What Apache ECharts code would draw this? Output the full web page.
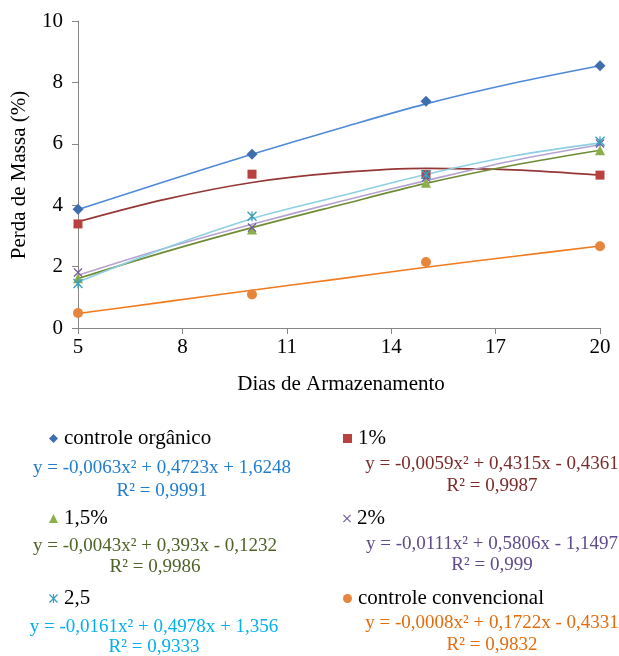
<!DOCTYPE html>
<html>
<head>
<meta charset="utf-8">
<script src="https://cdn.jsdelivr.net/npm/echarts@6/dist/echarts.min.js"></script>
<style>
html,body{margin:0;padding:0;background:#fff;}
#chart{width:619px;height:656px;}
</style>
</head>
<body>
<div id="chart"></div>
<script>
// ---- data ----
const days = [5, 10, 15, 20];
const trendDays = [5, 7.5, 10, 12.5, 15, 17.5, 20];
const xTicks = [5, 8, 11, 14, 17, 20];
const yTicks = [0, 2, 4, 6, 8, 10];

const seriesNames = ['controle orgânico', '1%', '1,5%', '2%', '2,5', 'controle convencional'];

const organico = [3.87, 5.66, 7.39, 8.54];
const pct1 = [3.39, 5.01, 5.0, 4.98];
const pct15 = [1.62, 3.21, 4.73, 5.79];
const pct2 = [1.81, 3.27, 4.9, 6.01];
const pct25 = [1.45, 3.64, 5.0, 6.08];
const convencional = [0.49, 1.09, 2.15, 2.66];

const organicoTrend = [3.86, 4.77, 5.66, 6.5, 7.3, 7.97, 8.54];
const pct1Trend = [3.46, 4.19, 4.74, 5.06, 5.2, 5.15, 4.98];
const pct15Trend = [1.61, 2.48, 3.27, 4.0, 4.71, 5.3, 5.79];
const pct2Trend = [1.72, 2.6, 3.38, 4.11, 4.8, 5.45, 5.97];
const pct25Trend = [1.5, 2.6, 3.56, 4.29, 5.0, 5.6, 6.03];
const convencionalTrend = [0.47, 0.85, 1.23, 1.6, 1.98, 2.33, 2.67];

const equations = [
  'y = -0,0063x² + 0,4723x + 1,6248',
  'y = -0,0059x² + 0,4315x - 0,4361',
  'y = -0,0043x² + 0,393x - 0,1232',
  'y = -0,0111x² + 0,5806x - 1,1497',
  'y = -0,0161x² + 0,4978x + 1,356',
  'y = -0,0008x² + 0,1722x - 0,4331'
];
const r2Labels = ['R² = 0,9991', 'R² = 0,9987', 'R² = 0,9986', 'R² = 0,999', 'R² = 0,9333', 'R² = 0,9832'];

const xTitle = 'Dias de Armazenamento';
const yTitle = 'Perda de Massa (%)';

// ---- styling ----
const FONT = '"Liberation Serif", "Times New Roman", serif';
const X_PATH = 'path://M1,0 L5,4 L9,0 L10,1 L6,5 L10,9 L9,10 L5,6 L1,10 L0,9 L4,5 L0,1 Z';
const STAR_PATH = 'path://M1,0 L5,4 L9,0 L10,1 L6,5 L10,9 L9,10 L5,6 L1,10 L0,9 L4,5 L0,1 Z M4.4,0 L5.6,0 L5.6,10 L4.4,10 Z';

const points = [organico, pct1, pct15, pct2, pct25, convencional];
const trends = [organicoTrend, pct1Trend, pct15Trend, pct2Trend, pct25Trend, convencionalTrend];
const markerColors = ['#3F6DAE', '#B8423F', '#8DAE4C', '#71589B', '#3A9FBD', '#E5863C'];
const lineColors = ['#4F8AD9', '#953735', '#6E8C34', '#B5A3CF', '#8ECFE3', '#F07A1C'];
const eqColors = ['#1F7DCF', '#7B2C2A', '#4F6228', '#5F4B8B', '#00B0F0', '#E46C0A'];
const symbols = ['diamond', 'rect', 'triangle', X_PATH, STAR_PATH, 'circle'];
const symbolSizes = [11, 9, 10, 9, 10, 10];
const legendIconSizes = [9, 9, 9, 8, 9, 9];

// legend / equation placement (two columns)
const legendPos = [[49, 428], [343, 428], [49, 508], [343, 508], [49, 588], [343, 588]];
const eqPos = [[162, 468, 491], [492, 464, 486], [155, 546, 567], [492, 544, 565], [154, 627, 647], [492, 623, 645]];

const series = [];
trends.forEach((t, i) => {
  series.push({
    name: 'trend-' + i,
    type: 'line',
    data: trendDays.map((d, k) => [d, t[k]]),
    smooth: 0.35,
    showSymbol: false,
    silent: true,
    z: 2,
    lineStyle: { color: lineColors[i], width: 1.6 }
  });
});
points.forEach((p, i) => {
  series.push({
    name: seriesNames[i],
    type: 'scatter',
    data: days.map((d, k) => [d, p[k]]),
    symbol: symbols[i],
    symbolSize: symbolSizes[i],
    z: 3,
    itemStyle: { color: markerColors[i], opacity: 1 }
  });
});

const legends = seriesNames.map((n, i) => ({
  data: [{ name: n, icon: symbols[i] }],
  left: legendPos[i][0],
  top: legendPos[i][1],
  padding: 0,
  itemWidth: legendIconSizes[i],
  itemHeight: legendIconSizes[i],
  itemGap: 5,
  selectedMode: false,
  textStyle: { fontFamily: FONT, fontSize: 21, color: '#000', padding: [0, 0, 0, 1] }
}));

const graphics = [];
equations.forEach((e, i) => {
  graphics.push({ type: 'text', x: eqPos[i][0], y: eqPos[i][1],
    style: { text: e, fill: eqColors[i], font: '19px ' + FONT, align: 'center', verticalAlign: 'middle' } });
  graphics.push({ type: 'text', x: eqPos[i][0], y: eqPos[i][2],
    style: { text: r2Labels[i], fill: eqColors[i], font: '19px ' + FONT, align: 'center', verticalAlign: 'middle' } });
});
graphics.push({ type: 'text', x: 341, y: 384,
  style: { text: xTitle, fill: '#000', font: '21px ' + FONT, align: 'center', verticalAlign: 'middle' } });
graphics.push({ type: 'text', x: 19, y: 175, rotation: Math.PI / 2,
  style: { text: yTitle, fill: '#000', font: '21px ' + FONT, align: 'center', verticalAlign: 'middle' } });

const axisCommon = {
  axisLine: { show: true, lineStyle: { color: '#868686', width: 1 } },
  axisTick: { show: true, inside: false, length: 6, lineStyle: { color: '#868686' } },
  splitLine: { show: false }
};

const chart = echarts.init(document.getElementById('chart'), null, { renderer: 'canvas' });
chart.setOption({
  animation: false,
  backgroundColor: '#fff',
  grid: { left: 78, top: 21, width: 522, height: 307, containLabel: false },
  xAxis: Object.assign({
    type: 'value',
    min: xTicks[0],
    max: xTicks[xTicks.length - 1],
    interval: xTicks[1] - xTicks[0],
    axisLabel: { fontFamily: FONT, fontSize: 21, color: '#000', margin: 9 }
  }, axisCommon),
  yAxis: Object.assign({
    type: 'value',
    min: yTicks[0],
    max: yTicks[yTicks.length - 1],
    interval: yTicks[1] - yTicks[0],
    axisLabel: { fontFamily: FONT, fontSize: 21, color: '#000', margin: 15 }
  }, axisCommon),
  legend: legends,
  graphic: graphics,
  series: series
});
</script>
</body>
</html>
